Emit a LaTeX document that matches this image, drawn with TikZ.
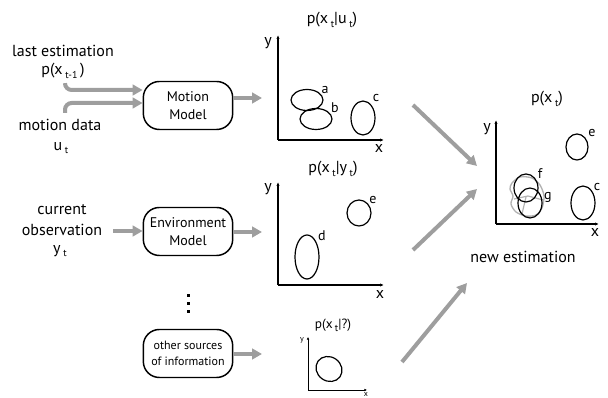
\documentclass[tikz,border=0pt]{standalone}
\usepackage{fontspec}
\setmainfont{PT Sans}
\usetikzlibrary{arrows.meta}
\newcommand{\lsub}[1]{\raisebox{-0.45ex}{\fontsize{7.5}{8}\selectfont #1}}
\begin{document}
\begin{tikzpicture}[x=0.75pt,y=-0.75pt,
  garrow/.style={draw=black!38,line width=3pt,-{Triangle[length=7.5pt,width=8pt]}},
  modelbox/.style={draw,line width=1.1pt,rounded corners=12pt,minimum width=67pt,minimum height=36pt,align=center,inner sep=1pt,font=\fontsize{10.5}{13}\selectfont},
  lbl/.style={font=\fontsize{12}{14}\selectfont,inner sep=0pt,align=center},
  slbl/.style={font=\fontsize{10.5}{12}\selectfont,inner sep=0pt},
  axis/.style={line width=0.8pt,-{Latex[length=3pt,width=2.5pt]}},
  ell/.style={line width=0.9pt}]
\useasboundingbox (0,0) rectangle (608,398);
% left texts
\node[lbl] (le) at (63,51) {last estimation};
\node[lbl] (pxt) at (63,71) {p(x\,\lsub{t-1}\,)};
\node[lbl] (md) at (60,125) {motion data};
\node[lbl] (ut) at (61,148) {u\,\lsub{t}};
\node[lbl] (cur) at (62,210) {current};
\node[lbl] (obs) at (62,230) {observation};
\node[lbl] (yt) at (60,251) {y\,\lsub{t}};
% boxes
\node[modelbox] (mm) at (188,105.5) {Motion\\Model};
\node[modelbox] (em) at (188,231.5) {Environment\\Model};
\node[modelbox,font=\fontsize{9}{12}\selectfont] (os) at (188,353.5) {other sources\\of information};
% dots
\foreach \yy in {296,304,312} \fill (186.5,\yy-1.5) rectangle (189.5,\yy+1.5);
% input arrows
\coordinate (s1) at (65,84);
\coordinate (s2) at (65,113);
\draw[garrow,rounded corners=5pt] (s1) |- (mm.west |- 0,90);
\draw[garrow,rounded corners=5pt] (s2) |- (mm.west |- 0,103);
\coordinate (s3) at (113,231);
\draw[garrow] (s3) -- (em.west |- s3);
% output arrows
\coordinate (t1) at (262,98);
\coordinate (t2) at (262,232);
\coordinate (t3) at (262,354);
\draw[garrow] (mm.east |- t1) -- (t1);
\draw[garrow] (em.east |- t2) -- (t2);
\draw[garrow] (os.east |- t3) -- (t3);
% plot 1
\coordinate (o1) at (278,140);
\node[lbl] (h1) at (332,20) {p(x\,\lsub{t}|u\,\lsub{t})};
\draw[axis] (o1) -- (278,35);
\draw[axis] (o1) -- (384,140);
\node[lbl] at (268,43) {y};
\node[lbl] at (379,149) {x};
\draw[ell] (307,100) ellipse [x radius=16, y radius=10.5];
\draw[ell] (316,119) ellipse [x radius=16, y radius=10.5];
\draw[ell] (363,118) ellipse [x radius=12, y radius=17];
\node[slbl] at (325,90) {a};
\node[slbl] at (335,108) {b};
\node[slbl] at (376,98) {c};
% plot 2
\coordinate (o2) at (278,285);
\node[lbl] (h2) at (333,169) {p(x\,\lsub{t}|y\,\lsub{t})};
\draw[axis] (o2) -- (278,182);
\draw[axis] (o2) -- (384,285);
\node[lbl] at (268,189) {y};
\node[lbl] at (380,295) {x};
\draw[ell] (307,257) ellipse [x radius=12, y radius=22];
\draw[ell] (359,213) ellipse [x radius=12, y radius=13];
\node[slbl] at (322,236) {d};
\node[slbl] at (373,200) {e};
% plot 3
\coordinate (o3) at (308,390);
\node[font=\fontsize{10}{11}\selectfont,inner sep=0pt] (h3) at (333,325) {p(x\,\lsub{t}|?)};
\draw[line width=0.7pt,-{Latex[length=2pt,width=2pt]}] (o3) -- (308,337);
\draw[line width=0.7pt,-{Latex[length=2pt,width=2pt]}] (o3) -- (367,390);
\node[font=\fontsize{6}{7}\selectfont,inner sep=0pt] at (302,340) {y};
\node[font=\fontsize{6}{7}\selectfont,inner sep=0pt] at (366,395) {x};
\draw[ell,rotate around={-35:(329,369)}] (329,369) ellipse [x radius=13.5, y radius=12];
% arrows to result
\coordinate (a1s) at (413,105);
\coordinate (a1e) at (477,166);
\coordinate (a2s) at (413,250);
\coordinate (a2e) at (477,189);
\coordinate (a3s) at (402,362);
\coordinate (a3e) at (467,283);
\draw[garrow] (a1s) -- (a1e);
\draw[garrow] (a2s) -- (a2e);
\draw[garrow] (a3s) -- (a3e);
% result plot
\coordinate (o4) at (496,224);
\node[lbl] (h4) at (547,99) {p(x\,\lsub{t})};
\draw[axis] (o4) -- (496,120);
\draw[axis] (o4) -- (599,224);
\node[lbl] at (487,129) {y};
\node[lbl] at (595,233) {x};
\node[lbl] (ne) at (523,257) {new estimation};
\draw[black!30,line width=1pt] plot[smooth cycle] coordinates {(512,183) (520,177) (532,178) (540,185) (544,196) (542,208) (536,215) (526,216) (516,212) (511,204) (513,196) (510,189)};
\draw[black!30,line width=0.9pt] (514,199) -- (528,196) -- (543,200);
\draw[black!30,line width=0.9pt] (526,197) -- (522,214);
\draw[ell] (526,188) ellipse [x radius=12, y radius=14];
\draw[ell] (530,203) ellipse [x radius=12, y radius=15];
\draw[ell] (577,147) ellipse [x radius=11, y radius=13];
\draw[ell] (583,203) ellipse [x radius=12, y radius=17];
\node[slbl] at (540,174) {f};
\node[slbl] at (548,197) {g};
\node[slbl] at (592,133) {e};
\node[slbl] at (597,187) {c};
\end{tikzpicture}
\end{document}
